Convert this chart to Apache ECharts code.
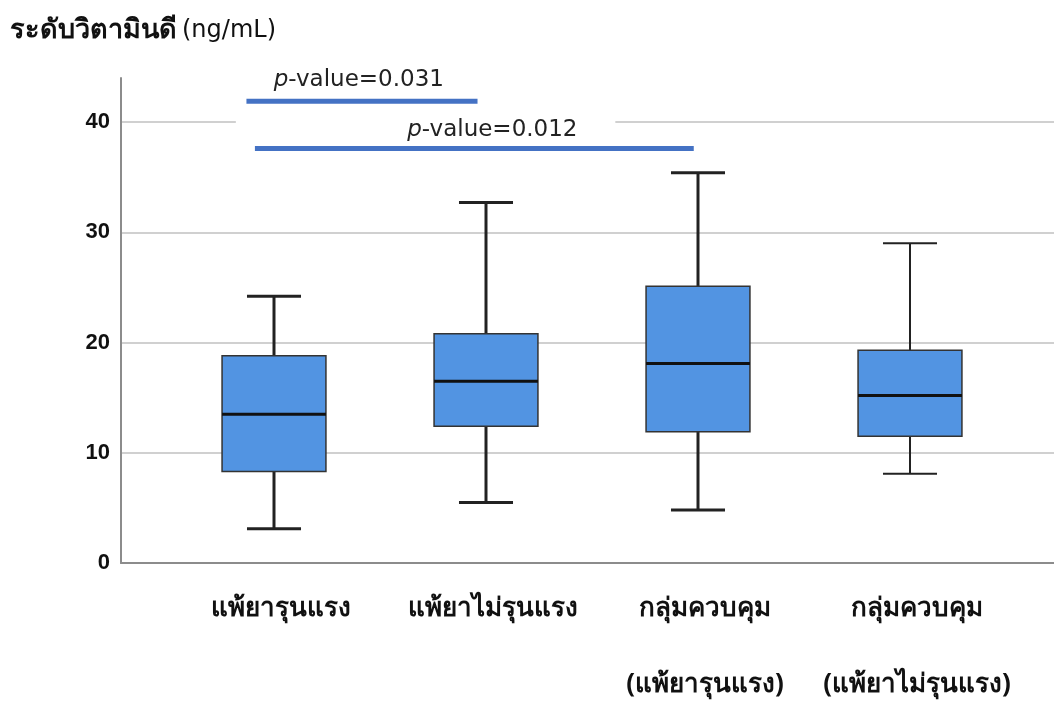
<!DOCTYPE html>
<html>
<head>
<meta charset="utf-8">
<script src="https://cdn.jsdelivr.net/npm/echarts@6/dist/echarts.min.js"></script>
<style>html,body{margin:0;padding:0;background:#fff;}#c{width:1054px;height:707px;}</style>
</head>
<body>
<div id="c"></div>
<script>
// ---- data ----
const categories = ['แพ้ยารุนแรง', 'แพ้ยาไม่รุนแรง', 'กลุ่มควบคุม\n(แพ้ยารุนแรง)', 'กลุ่มควบคุม\n(แพ้ยาไม่รุนแรง)'];
const whiskerLow = [3.1, 5.5, 4.8, 8.1];
const q1 = [8.3, 12.4, 11.9, 11.5];
const median = [13.5, 16.5, 18.1, 15.2];
const q3 = [18.8, 20.8, 25.1, 19.3];
const whiskerHigh = [24.2, 32.7, 35.4, 29.0];
const yTicks = [0, 10, 20, 30, 40];
const yMax = 44;
// significance brackets (x in category index units)
const sigPValues = ['0.031', '0.012'];
const sigStart = [-0.13, -0.09];
const sigEnd = [0.96, 1.98];
const sigLevel = [41.9, 37.6];
const sigLabelX = [0.40, 1.03];
const sigLabelY = [43.8, 39.3];
const maskRange = [-0.18, 1.61, 40];

const boxData = categories.map((c, i) => [i, whiskerLow[i], q1[i], median[i], q3[i], whiskerHigh[i]]);
const sigData = sigPValues.map((p, i) => [sigStart[i], sigEnd[i], sigLevel[i], sigLabelX[i], sigLabelY[i], p]);
const whiskerWidths = [3, 3, 3, 2];

const chart = echarts.init(document.getElementById('c'));
const thaiFont = 'Tahoma, "Noto Sans", "DejaVu Sans", sans-serif';

chart.setOption({
  animation: false,
  backgroundColor: '#fff',
  title: {
    left: 5, top: 12,
    text: '{b|ระดับวิตามินดี} {r|(ng/mL)}',
    textStyle: {
      rich: {
        b: { fontSize: 27, fontWeight: 'bold', color: '#111', fontFamily: thaiFont },
        r: { fontSize: 24, fontWeight: 'normal', color: '#111', fontFamily: '"DejaVu Sans", sans-serif' }
      }
    }
  },
  grid: [
    { left: 121, right: 0, top: 78, bottom: 144, outerBoundsMode: 'none' },
    { left: 168, right: 38, top: 78, bottom: 144, outerBoundsMode: 'none' }
  ],
  xAxis: [
    { gridIndex: 0, type: 'value', min: 0, max: 1,
      axisLine: { show: true, lineStyle: { color: '#8c8c8c', width: 2 } },
      axisTick: { show: false }, axisLabel: { show: false }, splitLine: { show: false } },
    { gridIndex: 1, type: 'category', data: categories,
      axisLine: { show: false }, axisTick: { show: false },
      axisLabel: { margin: 8, fontSize: 26, fontWeight: 'bold', color: '#111', lineHeight: 76, fontFamily: thaiFont, interval: 0,
        padding: [0, 0, 0, 14] } },
    { gridIndex: 1, type: 'value', min: -0.5, max: 3.5, show: false }
  ],
  yAxis: [
    { gridIndex: 0, type: 'value', min: yTicks[0], max: yMax, interval: yTicks[1] - yTicks[0],
      axisLine: { show: true, lineStyle: { color: '#8c8c8c', width: 2 } },
      axisTick: { show: false },
      axisLabel: { showMaxLabel: false, fontSize: 22, fontWeight: 'bold', color: '#111', margin: 11, fontFamily: '"Liberation Sans", Arial, sans-serif',
        formatter: v => yTicks.indexOf(v) >= 0 ? String(v) : '' },
      splitLine: { show: true, showMinLine: false, showMaxLine: false, lineStyle: { color: '#d0d0d0', width: 2 } } },
    { gridIndex: 1, type: 'value', min: yTicks[0], max: yMax, show: false }
  ],
  series: [
    { // white mask over 40 gridline behind the p-value label
      type: 'custom', xAxisIndex: 2, yAxisIndex: 1, silent: true, z: 1,
      data: [maskRange],
      renderItem: (params, api) => {
        const a = api.coord([api.value(0), api.value(2)]);
        const b = api.coord([api.value(1), api.value(2)]);
        return { type: 'rect', shape: { x: a[0], y: a[1] - 3, width: b[0] - a[0], height: 6 }, style: { fill: '#fff' } };
      }
    },
    {
      type: 'custom', xAxisIndex: 1, yAxisIndex: 1, z: 5,
      data: boxData,
      renderItem: (params, api) => {
        const x = api.value(0);
        const w = api.size([1, 0])[0] * 0.49;
        const cw = w * 0.52;
        const pLow = api.coord([x, api.value(1)]);
        const pQ1 = api.coord([x, api.value(2)]);
        const pMed = api.coord([x, api.value(3)]);
        const pQ3 = api.coord([x, api.value(4)]);
        const pHigh = api.coord([x, api.value(5)]);
        const cx = pQ1[0];
        const lw = whiskerWidths[params.dataIndex];
        const wStyle = { stroke: '#222', lineWidth: lw };
        return {
          type: 'group',
          children: [
            { type: 'line', shape: { x1: cx, y1: pHigh[1], x2: cx, y2: pQ3[1] }, style: wStyle },
            { type: 'line', shape: { x1: cx, y1: pQ1[1], x2: cx, y2: pLow[1] }, style: wStyle },
            { type: 'line', shape: { x1: cx - cw / 2, y1: pHigh[1], x2: cx + cw / 2, y2: pHigh[1] }, style: wStyle },
            { type: 'line', shape: { x1: cx - cw / 2, y1: pLow[1], x2: cx + cw / 2, y2: pLow[1] }, style: wStyle },
            { type: 'rect', shape: { x: cx - w / 2, y: pQ3[1], width: w, height: pQ1[1] - pQ3[1] },
              style: { fill: '#5294e2', stroke: '#333', lineWidth: 1.5 } },
            { type: 'line', shape: { x1: cx - w / 2, y1: pMed[1], x2: cx + w / 2, y2: pMed[1] }, style: { stroke: '#111', lineWidth: 3 } }
          ]
        };
      }
    },
    {
      type: 'custom', xAxisIndex: 2, yAxisIndex: 1, z: 6,
      data: sigData,
      renderItem: (params, api) => {
        const a = api.coord([api.value(0), api.value(2)]);
        const b = api.coord([api.value(1), api.value(2)]);
        const t = api.coord([api.value(3), api.value(4)]);
        const p = sigData[params.dataIndex][5];
        return {
          type: 'group',
          children: [
            { type: 'line', shape: { x1: a[0], y1: a[1], x2: b[0], y2: b[1] }, style: { stroke: '#4472c4', lineWidth: 5 } },
            { type: 'text', x: t[0], y: t[1],
              style: {
                text: '{i|p}{n|-value=' + p + '}',
                align: 'center', verticalAlign: 'middle',
                rich: {
                  i: { fontStyle: 'italic', fontSize: 23, fontFamily: '"DejaVu Sans", sans-serif', fill: '#222' },
                  n: { fontSize: 23, fontFamily: '"DejaVu Sans", sans-serif', fill: '#222' }
                }
              } }
          ]
        };
      }
    }
  ]
});
</script>
</body>
</html>
